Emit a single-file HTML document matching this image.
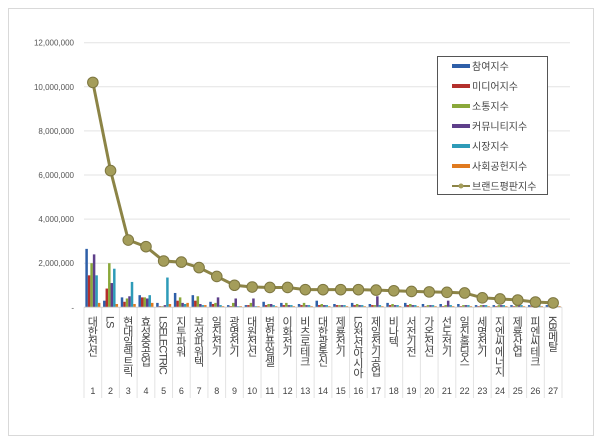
<!DOCTYPE html>
<html><head><meta charset="utf-8"><style>
body{margin:0;background:#fff;}
svg text{font-family:"Liberation Sans","Noto Sans CJK KR",sans-serif;}
</style></head><body>
<svg width="600" height="437" viewBox="0 0 600 437" xmlns="http://www.w3.org/2000/svg">
<rect x="8.5" y="8.5" width="585" height="427" fill="#fff" stroke="#d9d9d9"/>
<g id="grid"></g><g id="yaxis"></g><g id="bars"></g><g id="xaxis"></g><g id="line"></g><g id="legend"></g>
</svg>
<script>
const categories=["대한전선","LS","현대일렉트릭","효성중공업","LSELECTRIC","지투파워","보성파워텍","일진전기","광명전기","대원전선","범한퓨얼셀","이화전기","비츠로테크","대한광통신","제룡전기","LS전선아시아","제일전기공업","비나텍","서전기전","가온전선","선도전기","일진홀딩스","세명전기","지엔씨에너지","제룡산업","피엔씨테크","KBI메탈"];
const seriesNames=["참여지수","미디어지수","소통지수","커뮤니티지수","시장지수","사회공헌지수"];
const seriesColors=["#2e5fa8","#b3302c","#8aa83a","#5e3f8a","#2e9bb8","#e07a1f"];
const participation=[2650000,300000,450000,550000,200000,650000,550000,250000,100000,100000,250000,200000,150000,300000,150000,200000,150000,200000,200000,150000,150000,150000,100000,100000,100000,100000,100000];
const media=[1450000,850000,250000,450000,50000,300000,300000,150000,50000,100000,100000,100000,100000,100000,100000,100000,100000,100000,100000,50000,50000,50000,50000,50000,50000,50000,50000];
const communication=[2000000,2000000,400000,450000,50000,450000,500000,200000,200000,200000,150000,200000,200000,150000,100000,150000,100000,150000,150000,100000,100000,100000,100000,100000,100000,100000,50000];
const community=[2400000,1100000,500000,400000,100000,200000,150000,450000,400000,400000,150000,100000,100000,100000,100000,100000,500000,100000,100000,100000,300000,100000,100000,100000,100000,50000,50000];
const market=[1450000,1750000,1150000,550000,1350000,150000,100000,100000,50000,50000,100000,100000,100000,100000,100000,100000,100000,100000,100000,100000,100000,100000,100000,100000,100000,100000,50000];
const social=[200000,150000,150000,200000,150000,200000,100000,50000,50000,50000,50000,50000,50000,50000,50000,50000,50000,50000,50000,50000,50000,50000,50000,50000,50000,50000,50000];
const brandIndex=[10200000,6200000,3050000,2750000,2100000,2050000,1800000,1400000,1000000,920000,900000,900000,800000,800000,800000,800000,780000,750000,720000,700000,680000,650000,430000,380000,330000,240000,200000];
const yTicks=[0,2000000,4000000,6000000,8000000,10000000,12000000];
const yTickLabels=["-","2,000,000","4,000,000","6,000,000","8,000,000","10,000,000","12,000,000"];
const NS="http://www.w3.org/2000/svg";
const X0=84,X1=562,Y0=307.3,YT=42.7,YMAX=12000000;
const cw=(X1-X0)/categories.length;
function y(v){return Y0-(v/YMAX)*(Y0-YT);}
function xc(i){return X0+cw*(i+0.5);}
function mk(tag,attrs,parent){const e=document.createElementNS(NS,tag);for(const k in attrs)e.setAttribute(k,attrs[k]);parent.appendChild(e);return e;}
const g=id=>document.getElementById(id);
yTicks.forEach((t,i)=>{
 if(t>0){const l=mk('line',{x1:X0,x2:X1+8,y1:y(t),y2:y(t),stroke:'#e3e3e3','stroke-width':1},g('grid'));
 
 }
 const tx=mk('text',{x:74,y:y(t)+3,'text-anchor':'end','font-size':8,fill:'#555'},g('yaxis'));
 tx.textContent=yTickLabels[i];
 
 
});
const series=[participation,media,communication,community,market,social];
const bw=2.5;
categories.forEach((c,i)=>{
 series.forEach((s,k)=>{
  const bx=xc(i)-bw*3+k*bw;
  const r=mk('rect',{x:bx,y:y(s[i]),width:bw,height:Y0-y(s[i]),fill:seriesColors[k]},g('bars'));
  
  
 });
 const sep=mk('line',{x1:X0+cw*i,x2:X0+cw*i,y1:Y0,y2:398,stroke:'#e3e3e3'},g('xaxis'));
 
 
 const t=mk('text',{x:xc(i)-1,y:316,'font-size':11,fill:'#444','writing-mode':'vertical-rl','text-orientation':'mixed','letter-spacing':'-1'},g('xaxis'));
 t.textContent=c;
 
 
 const n=mk('text',{x:xc(i),y:394,'font-size':9,fill:'#444','text-anchor':'middle'},g('xaxis'));
 n.textContent=String(i+1);
 
 
});
const lastSep=mk('line',{x1:X1,x2:X1,y1:Y0,y2:398,stroke:'#e3e3e3'},g('xaxis'));


const ax=mk('line',{x1:X0,x2:X1,y1:Y0,y2:Y0,stroke:'#d0d0d0'},g('xaxis'));


const pl=mk('polyline',{points:brandIndex.map((v,i)=>xc(i)+','+y(v)).join(' '),fill:'none',stroke:'#8c8446','stroke-width':3},g('line'));


brandIndex.forEach((v,i)=>{
 const c=mk('circle',{cx:xc(i),cy:y(v),r:5.3,fill:'#a49d5a',stroke:'#7d7640','stroke-width':1},g('line'));
 
 
});
const lg=g('legend');
const box=mk('rect',{x:437.5,y:56.5,width:110,height:138,fill:'#fff',stroke:'#555'},lg);


const names=seriesNames.concat(["브랜드평판지수"]);
names.forEach((nm,k)=>{
 const yy=66+k*20;
 if(k<6){const s=mk('rect',{x:452,y:yy-2,width:18,height:4,fill:seriesColors[k]},lg);
  
  }
 else{const l=mk('line',{x1:452,x2:470,y1:yy,y2:yy,stroke:'#8c8446','stroke-width':2},lg);
  
  
  const c=mk('circle',{cx:461,cy:yy,r:2.5,fill:'#a49d5a'},lg);
  
  }
 const t=mk('text',{x:472,y:yy+4,'font-size':10,fill:'#444'},lg);
 t.textContent=nm;
 
 
});
</script>
</body></html>
